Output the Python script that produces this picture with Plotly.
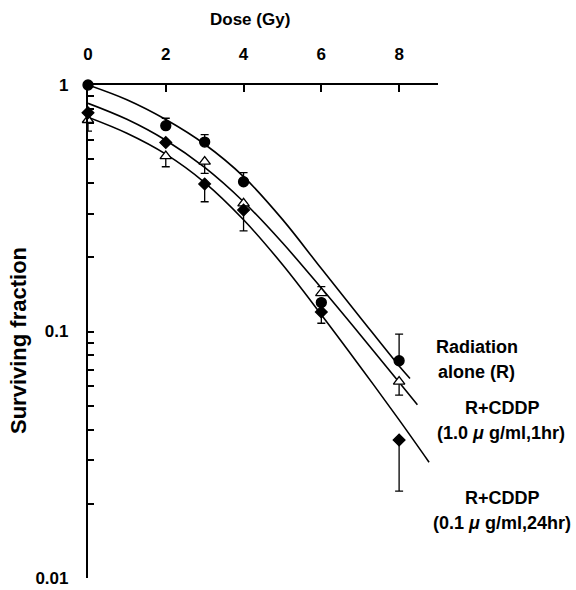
import plotly.graph_objects as go

# ---- data ----
dose = [0, 2, 3, 4, 6, 8]

rad_sf = [1.0, 0.684, 0.587, 0.405, 0.131, 0.0761]
rad_err_up = [0, 0.049, 0.042, 0.036, 0, 0.0214]
rad_err_dn = [0, 0, 0, 0, 0, 0]

cddp1_sf = [0.721, 0.515, 0.489, 0.331, 0.143, 0.0626]
cddp1_err_up = [0, 0, 0, 0, 0.009, 0]
cddp1_err_dn = [0.071, 0.049, 0.051, 0, 0, 0.0074]

cddp01_sf = [0.772, 0.584, 0.397, 0.311, 0.120, 0.0363]
cddp01_err_up = [0, 0, 0, 0, 0, 0]
cddp01_err_dn = [0, 0, 0.061, 0.055, 0.012, 0.0138]

# fitted curves
rad_fit_x = [0, 1, 2, 3, 4, 5, 6, 7, 8, 8.28]
rad_fit_y = [1.0, 0.871, 0.724, 0.575, 0.425, 0.285, 0.180, 0.114, 0.0725, 0.0645]
cddp1_fit_x = [0, 1, 2, 3, 4, 5, 6, 7, 8, 8.47]
cddp1_fit_y = [0.843, 0.726, 0.597, 0.463, 0.336, 0.229, 0.150, 0.0970, 0.0622, 0.0505]
cddp01_fit_x = [0, 1, 2, 3, 4, 5, 6, 7, 8, 8.77]
cddp01_fit_y = [0.740, 0.637, 0.524, 0.402, 0.284, 0.187, 0.117, 0.0720, 0.0438, 0.0295]

x_ticks = [0, 2, 4, 6, 8]
y_ticks = [0.01, 0.02, 0.03, 0.04, 0.05, 0.06, 0.07, 0.08, 0.09,
           0.1, 0.2, 0.3, 0.4, 0.5, 0.6, 0.7, 0.8, 0.9, 1]
y_tick_text = ["0.01", "", "", "", "", "", "", "", "",
               "0.1", "", "", "", "", "", "", "", "", "1"]

FONT = "Arial"
BLACK = "black"

fig = go.Figure()

for fx, fy in [(rad_fit_x, rad_fit_y), (cddp1_fit_x, cddp1_fit_y), (cddp01_fit_x, cddp01_fit_y)]:
    fig.add_trace(go.Scatter(x=fx, y=fy, mode="lines", line=dict(color=BLACK, width=1.6, shape="spline"),
                             showlegend=False, hoverinfo="skip", cliponaxis=False))

def pts(y, up, dn, symbol, fill, size):
    return go.Scatter(
        x=dose, y=y, mode="markers", showlegend=False, cliponaxis=False,
        marker=dict(symbol=symbol, size=size, color=fill, line=dict(color=BLACK, width=1.3)),
        error_y=dict(type="data", symmetric=False, array=up, arrayminus=dn,
                     color=BLACK, thickness=1.3, width=4),
    )

fig.add_trace(pts(cddp1_sf, cddp1_err_up, cddp1_err_dn, "triangle-up", "white", 10))
fig.add_trace(pts(cddp01_sf, cddp01_err_up, cddp01_err_dn, "diamond", BLACK, 9))
fig.add_trace(pts(rad_sf, rad_err_up, rad_err_dn, "circle", BLACK, 10))

W, H = 576, 590
PL, PR, PT, PB = 88, 438, 85, 578          # plot area in window pixels
pw, ph = PR - PL, PB - PT

def px(x):
    return (x - PL) / pw

def py(y):
    return (PB - y) / ph

fig.update_layout(
    width=W, height=H,
    margin=dict(l=PL, r=W - PR, t=PT, b=H - PB, autoexpand=False),
    paper_bgcolor="white", plot_bgcolor="white",
    font=dict(family=FONT, color=BLACK),
    xaxis=dict(
        side="top", range=[0, 9.0], tickvals=x_ticks, ticktext=[str(v) for v in x_ticks],
        ticks="inside", ticklen=7, tickwidth=2, tickcolor=BLACK,
        showline=True, linecolor=BLACK, linewidth=2.2, showgrid=False, zeroline=False,
        tickfont=dict(size=17, family=FONT, weight="bold"), ticklabelstandoff=16,
        automargin=False,
    ),
    yaxis=dict(
        type="log", range=[-2, 0], tickvals=y_ticks, ticktext=y_tick_text,
        ticks="inside", ticklen=6, tickwidth=1.6, tickcolor=BLACK,
        showline=True, linecolor=BLACK, linewidth=2.2, showgrid=False, zeroline=False,
        tickfont=dict(size=17, family=FONT, weight="bold"), ticklabelstandoff=14,
        automargin=False,
    ),
)

ann = [
    ("Dose (Gy)", 250, 20, 17, 0, "bold"),
    ("Surviving fraction", 18, 341, 22, -90, "bold"),
    ("Radiation", 477, 347, 18, 0, "bold"),
    ("alone (R)", 476.5, 372, 18, 0, "bold"),
    ("R+CDDP", 502, 408, 18, 0, "bold"),
    ("(1.0 <i>μ</i> g/ml,1hr)", 500.5, 433, 18, 0, "bold"),
    ("R+CDDP", 502, 498, 18, 0, "bold"),
    ("(0.1 <i>μ</i> g/ml,24hr)", 502, 523, 18, 0, "bold"),
]
for text, x, y, size, ang, wt in ann:
    fig.add_annotation(text=text, xref="paper", yref="paper", x=px(x), y=py(y),
                       xanchor="center", yanchor="middle", showarrow=False, textangle=ang,
                       font=dict(size=size, family=FONT, color=BLACK, weight=wt))

fig.write_html("out.html", config={"displayModeBar": False},
               post_script="document.body.style.margin='0';")
